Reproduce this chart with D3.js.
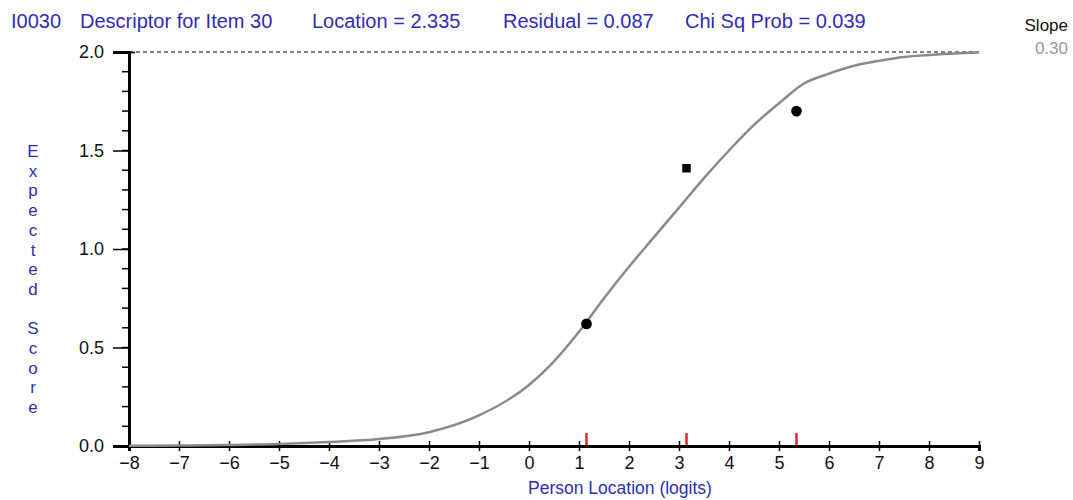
<!DOCTYPE html>
<html>
<head>
<meta charset="utf-8">
<script src="https://cdn.jsdelivr.net/npm/d3@7"></script>
<style>
  body { margin: 0; background: #fff; }
  text { font-family: "Liberation Sans", Arial, sans-serif; }
</style>
</head>
<body>
<svg id="chart"></svg>
<script>
// Total dimensions
var w = 1073,
    h = 500;

// Expected score curve
var curveX = [-8, -7, -6, -5, -4, -3, -2, -1, 0, 0.5, 1, 1.5, 2, 2.5, 3, 3.5, 4, 4.5, 5, 5.5, 6, 6.5, 7, 7.5, 8, 8.5, 9];
var curveY = [0.001, 0.002, 0.005, 0.01, 0.02, 0.035, 0.07, 0.155, 0.31, 0.43, 0.58, 0.75, 0.91, 1.06, 1.21, 1.36, 1.50, 1.63, 1.74, 1.84, 1.89, 1.93, 1.955, 1.975, 1.985, 1.993, 1.997];

// Observed class means
var obsX = [1.15, 3.15, 5.35];
var obsY = [0.62, 1.41, 1.70];

var xTicks = [-8, -7, -6, -5, -4, -3, -2, -1, 0, 1, 2, 3, 4, 5, 6, 7, 8, 9];
var yTicks = [0, 0.5, 1.0, 1.5, 2.0];

var titleParts = ["I0030", "Descriptor for Item 30", "Location = 2.335", "Residual = 0.087", "Chi Sq Prob = 0.039"];
var yLabel = "Expected Score";
var xLabel = "Person Location (logits)";

var blue = "#2e2eb4";

var svg = d3.select("#chart")
    .attr("width", w)
    .attr("height", h);

var margin = { top: 52, right: 94, bottom: 54, left: 129 },
    width = w - margin.left - margin.right,
    height = h - margin.top - margin.bottom,
    g = svg.append("g").attr("transform", "translate(" + margin.left + "," + margin.top + ")");

var xScale = d3.scaleLinear().domain([-8, 9]).range([0, width]);
var yScale = d3.scaleLinear().domain([0, 2]).range([height, 0]);

// Title
var titleX = [11, 80, 312, 503, 685];
svg.selectAll(".title")
    .data(titleParts)
    .enter().append("text")
    .attr("class", "title")
    .attr("x", function(d, i) { return titleX[i]; })
    .attr("y", 28)
    .attr("font-size", "20px")
    .attr("fill", blue)
    .text(function(d) { return d; });

svg.append("text")
    .attr("x", 1068).attr("y", 31)
    .attr("text-anchor", "end")
    .attr("font-size", "17px")
    .attr("fill", "#111")
    .text("Slope");
svg.append("text")
    .attr("x", 1068).attr("y", 54)
    .attr("text-anchor", "end")
    .attr("font-size", "17px")
    .attr("fill", "#999")
    .text("0.30");

// Dashed line at maximum score
g.append("line")
    .attr("x1", 0).attr("x2", width)
    .attr("y1", yScale(2)).attr("y2", yScale(2))
    .attr("stroke", "#000")
    .attr("stroke-width", 1.2)
    .attr("stroke-dasharray", "4,3");

// Y axis
var yMinor = d3.range(0, 2.0001, 0.1);
g.selectAll(".yminor")
    .data(yMinor)
    .enter().append("line")
    .attr("x1", -7).attr("x2", 0)
    .attr("y1", function(d) { return yScale(d); })
    .attr("y2", function(d) { return yScale(d); })
    .attr("stroke", "#000").attr("stroke-width", 1.5);

var yAxis = d3.axisLeft(yScale)
    .tickValues(yTicks)
    .tickSize(16)
    .tickPadding(9)
    .tickFormat(d3.format(".1f"));

var gy = g.append("g").attr("class", "y axis").call(yAxis);
gy.select(".domain").attr("stroke-width", 3);
gy.selectAll(".tick line").attr("stroke-width", 1.5);
gy.selectAll(".tick").filter(function(d) { return d === 2; })
    .select("line").attr("x2", 6);
gy.selectAll("text")
    .attr("font-size", "18px")
    .attr("font-family", "Liberation Sans, Arial, sans-serif")
    .attr("fill", "#111");

// X axis
var xAxis = d3.axisBottom(xScale)
    .tickValues(xTicks)
    .tickSize(5)
    .tickPadding(5)
    .tickFormat(d3.format("d"));

var gx = g.append("g")
    .attr("class", "x axis")
    .attr("transform", "translate(0," + height + ")")
    .call(xAxis);
gx.select(".domain").attr("stroke-width", 3);
gx.selectAll(".tick line").attr("y1", -5).attr("stroke-width", 1.5);
gx.selectAll("text")
    .attr("font-size", "18px")
    .attr("font-family", "Liberation Sans, Arial, sans-serif")
    .attr("fill", "#111");

// Expected score curve
var curve = curveX.map(function(d, i) { return [d, curveY[i]]; });
var line = d3.line()
    .x(function(d) { return xScale(d[0]); })
    .y(function(d) { return yScale(d[1]); })
    .curve(d3.curveMonotoneX);

g.append("path")
    .datum(curve)
    .attr("fill", "none")
    .attr("stroke", "#8a8a8a")
    .attr("stroke-width", 2.5)
    .attr("stroke-linejoin", "round")
    .attr("d", line);

// Class interval markers on the x axis
g.selectAll(".classtick")
    .data(obsX)
    .enter().append("line")
    .attr("x1", function(d) { return xScale(d); })
    .attr("x2", function(d) { return xScale(d); })
    .attr("y1", height - 13).attr("y2", height - 1)
    .attr("stroke", "#e0262a")
    .attr("stroke-width", 2.5);

// Observed points
var obs = obsX.map(function(d, i) { return [d, obsY[i]]; });
g.selectAll(".obs")
    .data(obs)
    .enter().append("path")
    .attr("transform", function(d) { return "translate(" + xScale(d[0]) + "," + yScale(d[1]) + ")"; })
    .attr("d", function(d, i) {
        return d3.symbol().type(i === 1 ? d3.symbolSquare : d3.symbolCircle).size(i === 1 ? 72 : 90)();
    })
    .attr("fill", "#000");

// Vertical y label, one letter per line
svg.selectAll(".ylab")
    .data(yLabel.split(""))
    .enter().append("text")
    .attr("class", "ylab")
    .attr("x", 33)
    .attr("y", function(d, i) { return 157 + i * 19.7; })
    .attr("text-anchor", "middle")
    .attr("font-size", "17px")
    .attr("fill", blue)
    .text(function(d) { return d; });

// X label
svg.append("text")
    .attr("x", 620).attr("y", 494)
    .attr("text-anchor", "middle")
    .attr("font-size", "17.5px")
    .attr("fill", blue)
    .text(xLabel);
</script>
</body>
</html>
